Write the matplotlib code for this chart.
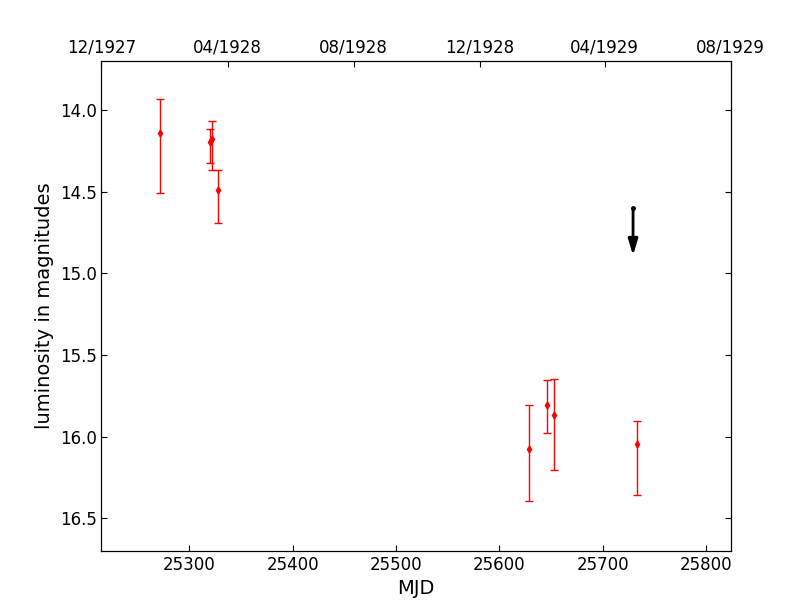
import matplotlib
matplotlib.use('Agg')
import matplotlib.pyplot as plt
import numpy as np

# detections (MJD, magnitude, asymmetric errors)
mjd = [25272.0, 25319.6, 25321.5, 25327.6, 25629.0, 25646.5, 25653.0, 25733.0]
mag = [14.14, 14.197, 14.174, 14.49, 16.076, 15.806, 15.868, 16.045]
err_up = [0.21, 0.084, 0.108, 0.126, 0.27, 0.153, 0.221, 0.141]
err_down = [0.37, 0.124, 0.19, 0.202, 0.319, 0.172, 0.337, 0.313]

# upper limit
lim_mjd = 25729.4
lim_mag = 14.60

# top axis: month starts (MJD) and labels
date_ticks = [25215, 25337, 25459, 25581, 25702, 25824]
date_labels = ['12/1927', '04/1928', '08/1928', '12/1928', '04/1929', '08/1929']

plt.rcParams['font.family'] = 'DejaVu Sans'
plt.rcParams['xtick.direction'] = 'in'
plt.rcParams['ytick.direction'] = 'in'
plt.rcParams['xtick.major.size'] = 4
plt.rcParams['ytick.major.size'] = 4

fig = plt.figure(figsize=(8.12, 6.12), dpi=100)
ax = fig.add_axes([0.125, 0.1, 0.775, 0.8])

ax.errorbar(mjd, mag, yerr=[err_up, err_down], fmt='d', color='red',
            ecolor='red', markersize=3.5, elinewidth=1, capsize=3, capthick=1)

# upper limit marker with arrow
ax.plot([lim_mjd], [lim_mag], 'k.', markersize=5)
ax.annotate('', xy=(lim_mjd, lim_mag + 0.29), xytext=(lim_mjd, lim_mag),
            arrowprops=dict(arrowstyle='-|>,head_length=0.6,head_width=0.18',
                            color='k', lw=2, mutation_scale=16,
                            shrinkA=0, shrinkB=0))

ax.set_xlim(25215, 25824)
ax.set_ylim(16.7, 13.7)
ax.set_yticks([14.0, 14.5, 15.0, 15.5, 16.0, 16.5])
ax.set_xticks([25300, 25400, 25500, 25600, 25700, 25800])
ax.tick_params(labelsize=12, top=False, right=True)
ax.set_xlabel('MJD', fontsize=14)
ax.set_ylabel('luminosity in magnitudes', fontsize=14)

ax2 = ax.twiny()
ax2.set_xlim(ax.get_xlim())
ax2.set_xticks(date_ticks)
ax2.set_xticklabels(date_labels)
ax2.tick_params(labelsize=12)

fig.savefig('out.png', dpi=100)
